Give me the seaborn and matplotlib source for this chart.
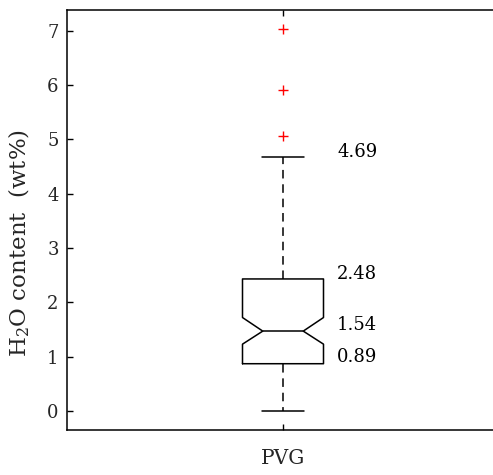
import matplotlib
matplotlib.use("Agg")
import matplotlib.pyplot as plt
import seaborn as sns

# ---- data ----
category = ["PVG"]
whisker_low = [0.0]
q1 = [0.87]
median = [1.47]
q3 = [2.43]
whisker_high = [4.67]
notch_low = [1.23]
notch_high = [1.72]
outliers = [[5.06, 5.90, 7.03]]
annot_text = ["4.69", "2.48", "1.54", "0.89"]
annot_y = [4.76, 2.52, 1.58, 1.00]
y_ticks = [0, 1, 2, 3, 4, 5, 6, 7]

sns.set_style("ticks")
plt.rcParams["font.family"] = ["DejaVu Serif"]
plt.rcParams["mathtext.fontset"] = "dejavuserif"

fig = plt.figure(figsize=(4.93, 4.75), dpi=100)
ax = fig.add_axes([67 / 493, 45 / 475, 432 / 493, 420 / 475])

stats = []
for i, name in enumerate(category):
    stats.append(dict(label=name, whislo=whisker_low[i], q1=q1[i], med=median[i],
                      q3=q3[i], whishi=whisker_high[i], cilo=notch_low[i],
                      cihi=notch_high[i], fliers=outliers[i]))

lw = 1.1
ax.bxp(stats, positions=[1], widths=0.1875, capwidths=0.095, shownotches=True,
       boxprops=dict(color="black", linewidth=lw),
       medianprops=dict(color="black", linewidth=lw),
       whiskerprops=dict(color="black", linewidth=lw, linestyle=(0, (5.6, 3.8))),
       capprops=dict(color="black", linewidth=lw),
       flierprops=dict(marker="+", markeredgecolor="red", markersize=7,
                       markeredgewidth=1.0, linestyle="none"))

for t, y in zip(annot_text, annot_y):
    ax.text(1.125, y, t, ha="left", va="center", fontsize=13, color="black")

ax.set_xlim(0.5, 1.5)
ax.set_ylim(-0.35, 7.38)
ax.set_yticks(y_ticks)
ax.set_xticks([1])
ax.set_xticklabels(category, fontsize=14.5)
ax.tick_params(axis="y", labelsize=13, pad=6)
ax.tick_params(axis="x", pad=14)
ax.tick_params(direction="in", length=4.5, width=1.0, top=True, right=True, color="black")
ax.set_ylabel("H$_2$O content  (wt%)", fontsize=16.5)
ax.yaxis.set_label_coords(-0.081, 0.446)
for s in ax.spines.values():
    s.set_linewidth(1.1)
    s.set_color("black")

fig.savefig("out.png", dpi=100)
